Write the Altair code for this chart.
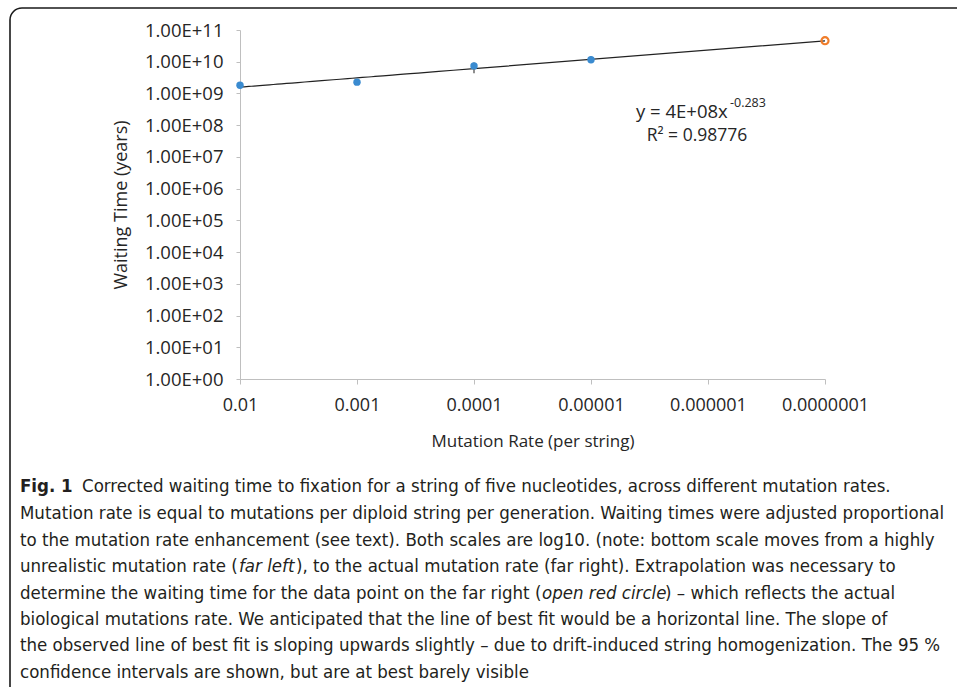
import altair as alt
import pandas as pd

# ---- data ----
rates = [0.01, 0.001, 0.0001, 0.00001]
waits = [1.82e9, 2.27e9, 7.4e9, 1.15e10]
ci_low = [1.70e9, 2.15e9, 4.3e9, 9.2e9]
ci_high = [1.95e9, 2.40e9, 9.5e9, 1.5e10]
extrap_rate = [0.0000001]
extrap_wait = [4.6e10]
x_ticks = [0.01, 0.001, 0.0001, 0.00001, 0.000001, 0.0000001]
y_ticks = [1e0, 1e1, 1e2, 1e3, 1e4, 1e5, 1e6, 1e7, 1e8, 1e9, 1e10, 1e11]

eq_text = "y = 4E+08x"
eq_exp = "-0.283"
r2_text = "R² = 0.98776"

caption_bold = "Fig. 1"
# each line is a list of (text, italic) segments
caption_lines = [
    [("Corrected waiting time to fixation for a string of five nucleotides, across different mutation rates.", False)],
    [("Mutation rate is equal to mutations per diploid string per generation. Waiting times were adjusted proportional", False)],
    [("to the mutation rate enhancement (see text). Both scales are log10. (note: bottom scale moves from a highly", False)],
    [("unrealistic mutation rate (", False), ("far left", True),
     ("), to the actual mutation rate (far right). Extrapolation was necessary to", False)],
    [("determine the waiting time for the data point on the far right (", False), ("open red circle", True),
     (") – which reflects the actual", False)],
    [("biological mutations rate. We anticipated that the line of best fit would be a horizontal line. The slope of", False)],
    [("the observed line of best fit is sloping upwards slightly – due to drift-induced string homogenization. The 95 %", False)],
    [("confidence intervals are shown, but are at best barely visible", False)],
]
# x start of each segment (pixels in the page)
caption_x = [[82], [20], [20], [20, 239, 296], [20, 542, 665], [20], [20], [20]]
caption_y = [486, 513, 540, 566, 593, 619, 645, 672]

AX_FONT = "Open Sans"
CAP_FONT = "DejaVu Sans Condensed, Open Sans"
CAP_SIZE = 18.5
TXT = "#262626"

W, H = 585, 349
PAD_L, PAD_T = 240, 30

df = pd.DataFrame({"rate": rates, "wait": waits, "lo": ci_low, "hi": ci_high})
df_ex = pd.DataFrame({"rate": extrap_rate, "wait": extrap_wait})

xscale = alt.Scale(type="log", domain=[x_ticks[-1], x_ticks[0]], reverse=True, nice=False)
yscale = alt.Scale(type="log", domain=[y_ticks[0], y_ticks[-1]], nice=False)

xaxis = alt.Axis(
    values=x_ticks, format=".7~f", title="Mutation Rate (per string)",
    grid=False, domainColor="#bfbfbf", tickColor="#bfbfbf", tickSize=5,
    labelFont=AX_FONT, labelFontSize=18, labelColor=TXT, labelPadding=12,
    titleFont=AX_FONT, titleFontSize=17, titleFontWeight="normal", titleColor=TXT,
    titlePadding=19, labelFlush=False,
)
yaxis = alt.Axis(
    values=y_ticks,
    labelExpr="'1.00E+' + (round(log(datum.value)/LN10) < 10 ? '0' : '') + round(log(datum.value)/LN10)",
    title="Waiting Time (years)", grid=False, domainColor="#bfbfbf", tickColor="#bfbfbf",
    tickSize=4, labelFont=AX_FONT, labelFontSize=18.5, labelColor=TXT, labelPadding=13,
    titleFont=AX_FONT, titleFontSize=18, titleFontWeight="normal", titleColor=TXT,
    titlePadding=14, labelFlush=False,
)

base = alt.Chart(df)

trend = base.transform_regression(
    "rate", "wait", method="pow", extent=[x_ticks[-1], x_ticks[0]]
).mark_line(color="#222222", strokeWidth=1.2).encode(
    x=alt.X("rate:Q", scale=xscale, axis=xaxis),
    y=alt.Y("wait:Q", scale=yscale, axis=yaxis),
)

errbars = base.mark_rule(color="#444444", strokeWidth=1.2).encode(
    x=alt.X("rate:Q", scale=xscale), y=alt.Y("lo:Q", scale=yscale), y2="hi:Q"
)

points = base.mark_point(filled=True, shape="circle", size=55, color="#3a8bd0", opacity=1).encode(
    x=alt.X("rate:Q", scale=xscale), y=alt.Y("wait:Q", scale=yscale)
)

extrap = alt.Chart(df_ex).mark_point(
    shape="circle", size=50, color="#f07d2a", strokeWidth=2.2, filled=False, opacity=1
).encode(x=alt.X("rate:Q", scale=xscale), y=alt.Y("wait:Q", scale=yscale))


def txt(s, x, y, size=17, font=AX_FONT, weight="normal", style="normal", align="left", color=TXT):
    return alt.Chart(pd.DataFrame({"t": [s]})).mark_text(
        font=font, fontSize=size, fontWeight=weight, fontStyle=style, align=align,
        baseline="middle", color=color,
    ).encode(text="t:N", x=alt.value(x), y=alt.value(y))


ann = [
    txt(eq_text, 636 - PAD_L, 112 - PAD_T, size=18.5),
    txt(eq_exp, 730 - PAD_L, 103 - PAD_T, size=12.5),
    txt(r2_text, 697 - PAD_L, 136 - PAD_T, size=17.5, align="center"),
]

frame = alt.Chart(pd.DataFrame({"a": [0]})).mark_rect(
    filled=False, stroke="#1a1a1a", strokeWidth=1.6, cornerRadius=12
).encode(
    x=alt.value(10 - PAD_L), x2=alt.value(1000), y=alt.value(8 - PAD_T), y2=alt.value(760)
)

caps = [txt(caption_bold, 20 - PAD_L, caption_y[0] - PAD_T, size=CAP_SIZE, font=CAP_FONT,
            weight="bold", color="#231f20")]
for segs, xs, yy in zip(caption_lines, caption_x, caption_y):
    for (s, ital), xx in zip(segs, xs):
        caps.append(txt(s, xx - PAD_L, yy - PAD_T, size=CAP_SIZE, font=CAP_FONT,
                        style="italic" if ital else "normal", color="#231f20"))

chart = alt.layer(frame, trend, errbars, points, extrap, *ann, *caps).properties(
    width=W, height=H,
    autosize=alt.AutoSizeParams(type="none"),
    padding={"left": PAD_L, "top": PAD_T, "right": 957 - PAD_L - W, "bottom": 687 - PAD_T - H},
    background="white",
).configure_view(stroke=None)

chart.save("out.html", embed_options={"renderer": "svg", "actions": False})
